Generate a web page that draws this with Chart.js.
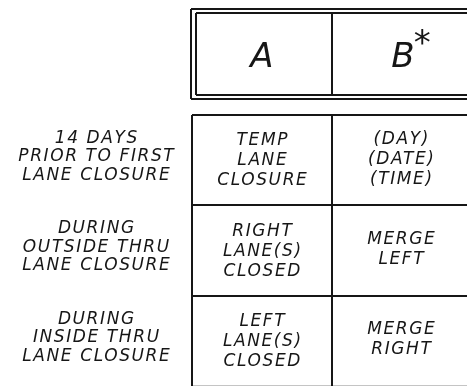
<!DOCTYPE html>
<html>
<head>
<meta charset="utf-8">
<script src="https://cdn.jsdelivr.net/npm/chart.js@4.4.1/dist/chart.umd.min.js"></script>
<style>
  html, body { margin: 0; padding: 0; background: #fff; }
  canvas { display: block; }
</style>
</head>
<body>
<canvas id="laneTable" width="467" height="386"></canvas>
<script>
// table contents
const columnHeads = ["A", "B"];
const headMarks = ["", "*"];
const rowLabels = [
  ["14 DAYS", "PRIOR TO FIRST", "LANE CLOSURE"],
  ["DURING", "OUTSIDE THRU", "LANE CLOSURE"],
  ["DURING", "INSIDE THRU", "LANE CLOSURE"],
];
const columnA = [
  ["TEMP", "LANE", "CLOSURE"],
  ["RIGHT", "LANE(S)", "CLOSED"],
  ["LEFT", "LANE(S)", "CLOSED"],
];
const columnB = [
  ["(DAY)", "(DATE)", "(TIME)"],
  ["MERGE", "LEFT"],
  ["MERGE", "RIGHT"],
];

// layout (in scale units, 1 unit = 1 px)
const colEdges = [192, 332, 474];
const rowEdges = [115, 205, 296, 386.8];
const headOuter = [191, 9, 480, 99];
const headInner = [196, 13, 475, 95];
const labelX = 96;
const ink = "#161616";
const fontFamily = "'DejaVu Sans', sans-serif";

function seg(x1, y1, x2, y2) {
  return {
    data: [{ x: x1, y: y1 }, { x: x2, y: y2 }],
    showLine: true,
    borderColor: ink,
    borderWidth: 2,
    pointRadius: 0,
    clip: false,
  };
}

function rect(r) {
  const [l, t, rr, b] = r;
  return [seg(l, t, rr, t), seg(l, b, rr, b), seg(l, t, l, b)];
}

const datasets = [
  ...rect(headOuter),
  ...rect(headInner),
  seg(colEdges[1], headInner[1], colEdges[1], headInner[3]),
  seg(colEdges[0], rowEdges[0], colEdges[2], rowEdges[0]),
  seg(colEdges[0], rowEdges[0], colEdges[0], rowEdges[3]),
  seg(colEdges[1], rowEdges[0], colEdges[1], rowEdges[3]),
  seg(colEdges[2], rowEdges[0], colEdges[2], rowEdges[3]),
];
rowEdges.slice(1).forEach((y) => datasets.push(seg(colEdges[0], y, colEdges[2], y)));

function drawLines(ctx, lines, cx, cy, lineH, size, spacing) {
  ctx.font = "italic 200 " + size + "px " + fontFamily;
  ctx.letterSpacing = spacing + "px";
  ctx.textAlign = "center";
  ctx.textBaseline = "alphabetic";
  const cap = size * 0.729;
  lines.forEach((txt, i) => {
    const base = cy - ((lines.length - 1) / 2) * lineH + i * lineH + cap / 2;
    ctx.fillText(txt, cx + spacing / 2, base);
  });
}

const tableText = {
  id: "tableText",
  afterDatasetsDraw(chart) {
    const { ctx, scales } = chart;
    const px = (v) => scales.x.getPixelForValue(v);
    const py = (v) => scales.y.getPixelForValue(v);
    ctx.save();
    ctx.fillStyle = ink;

    // header row
    const headMid = py((headInner[1] + headInner[3]) / 2 + 1);
    columnHeads.forEach((h, i) => {
      const cx = px((colEdges[i] + colEdges[i + 1]) / 2);
      drawLines(ctx, [h], cx, headMid, 0, 34, 0);
      if (headMarks[i]) {
        const w = ctx.measureText(h).width;
        ctx.textAlign = "left";
        ctx.fillText(headMarks[i], cx + w / 2 - 1, headMid + 12.4 - 13);
      }
    });

    // body rows
    rowLabels.forEach((lines, r) => {
      const mid = (rowEdges[r] + Math.min(rowEdges[r + 1], 386)) / 2;
      drawLines(ctx, lines, px(labelX), py(mid - 5), 18.5, 17, 1.6);
      drawLines(ctx, columnA[r], px((colEdges[0] + colEdges[1]) / 2), py(mid - 1), 20, 17, 1.6);
      const bShift = columnB[r].length === 2 ? -3 : -2;
      drawLines(ctx, columnB[r], px((colEdges[1] + colEdges[2]) / 2 - 2), py(mid + bShift), 20, 17, 1.6);
    });
    ctx.restore();
  },
};

new Chart(document.getElementById("laneTable"), {
  type: "scatter",
  data: { datasets },
  options: {
    responsive: false,
    animation: false,
    devicePixelRatio: 1,
    layout: { padding: 0 },
    plugins: { legend: { display: false }, tooltip: { enabled: false } },
    scales: {
      x: { type: "linear", min: 0, max: 467, display: false },
      y: { type: "linear", min: 0, max: 386, reverse: true, display: false },
    },
  },
  plugins: [tableText],
});
</script>
</body>
</html>
